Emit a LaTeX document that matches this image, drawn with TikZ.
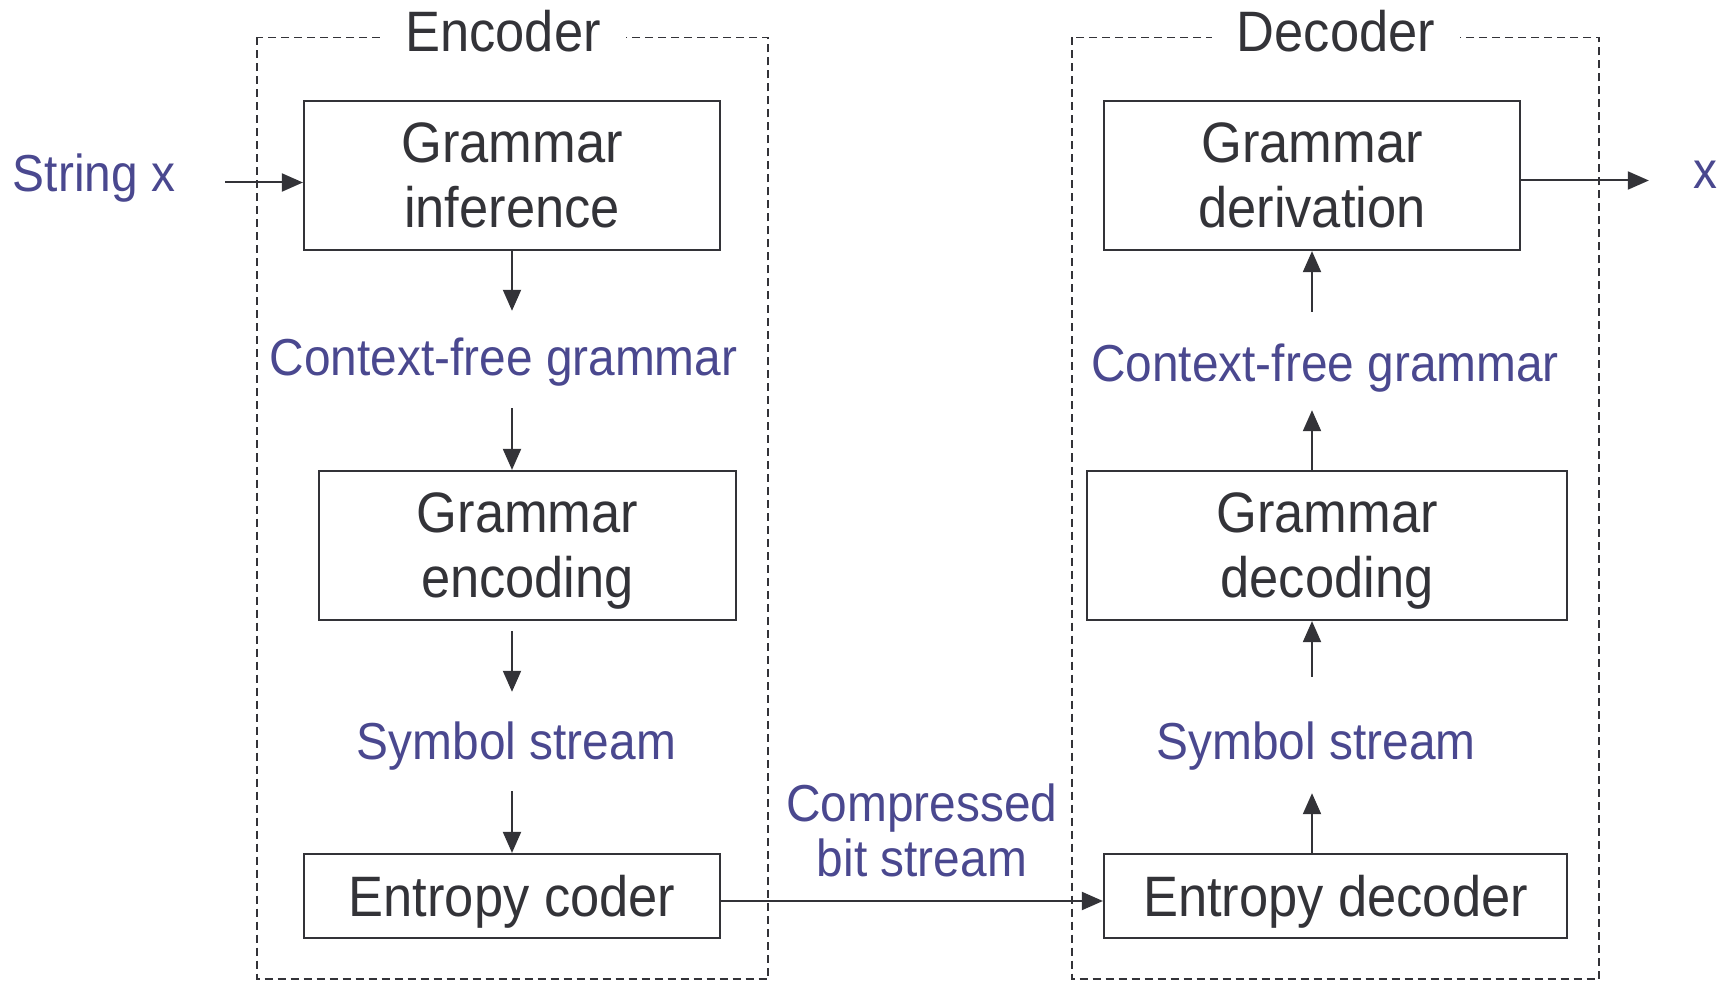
\documentclass[tikz,border=0pt]{standalone}
\usepackage{fontspec}
\setmainfont{Liberation Sans}[FakeStretch=0.92]
\usetikzlibrary{arrows.meta}
\definecolor{ink}{RGB}{51,51,56}
\definecolor{lblue}{RGB}{74,72,143}
\newcommand\nodp[1]{\raisebox{0pt}[\height][0pt]{#1}}
\newcommand\lastl[1]{\raisebox{0pt}[\height][-4pt]{#1}}
\begin{document}
\begin{tikzpicture}[x=1pt,y=-1pt,
  box/.style={draw=ink, line width=2.2pt, inner sep=0pt, text=ink, font=\fontsize{57}{65}\selectfont, align=center},
  lbl/.style={text=lblue, font=\fontsize{52}{55}\selectfont, inner sep=0pt, text height=40pt, text depth=11pt, anchor=base},
  lblml/.style={text=lblue, font=\fontsize{52}{55}\selectfont, inner sep=0pt, align=center},
  ttl/.style={text=ink, font=\fontsize{57}{63}\selectfont, fill=white, inner xsep=25pt, inner ysep=4pt, anchor=base},
  arr/.style={draw=ink, line width=2pt, -{Triangle[length=21pt,width=18pt]}},
  grp/.style={draw=ink, line width=1.6pt, dash pattern=on 8pt off 5pt}]
\useasboundingbox (0,0) rectangle (1727,981);
% group frames
\draw[grp] (257,37.5) rectangle (768,979);
\draw[grp] (1072,37.5) rectangle (1599,979);
\node[ttl] (encT) at (503,52) {Encoder};
\node[ttl] (decT) at (1336,52) {Decoder};
% boxes
\node[box, minimum width=416pt, minimum height=149pt] (inf) at (512,175.5) {Grammar\\\lastl{inference}};
\node[box, minimum width=417pt, minimum height=149pt] (enc) at (527.5,545.5) {Grammar\\\lastl{encoding}};
\node[box, minimum width=416pt, minimum height=84pt] (coder) at (512,896) {\nodp{Entropy coder}};
\node[box, minimum width=416pt, minimum height=149pt] (der) at (1312,175.5) {Grammar\\\lastl{derivation}};
\node[box, minimum width=480pt, minimum height=149pt] (dcd) at (1327,545.5) {Grammar\\\lastl{decoding}};
\node[box, minimum width=463pt, minimum height=84pt] (edec) at (1335.5,896) {\nodp{Entropy decoder}};
% labels
\node[lbl] (strx) at (94,192) {String x};
\node[lbl] (xout) at (1705,189) {x};
\node[lbl] (cfgE) at (503.5,376) {Context-free grammar};
\node[lbl] (cfgD) at (1325,382) {Context-free grammar};
\node[lbl] (symE) at (516.5,759) {Symbol stream};
\node[lbl] (symD) at (1316,759) {Symbol stream};
\node[lblml] (comp) at (922,830.5) {Compressed\\bit stream};
% horizontal connectors
\coordinate (inpt) at ([yshift=-7pt]inf.west);
\draw[arr, shorten <=50pt] (strx.east |- inpt) -- (inpt);
\coordinate (outp) at ([yshift=-5pt]der.east);
\draw[arr, shorten >=44pt] (outp) -- (outp -| xout.west);
\coordinate (cout) at ([yshift=-5pt]coder.east);
\draw[arr] (cout) -- (cout -| edec.west);
% encoder column
\draw[arr, shorten >=25pt] (inf.south) -- (inf.south |- cfgE.north);
\draw[arr, shorten <=21pt] (inf.south |- cfgE.south) -- (inf.south |- enc.north);
\draw[arr, shorten <=10pt, shorten >=27pt] (inf.south |- enc.south) -- (inf.south |- symE.north);
\draw[arr, shorten <=21pt] (inf.south |- symE.south) -- (coder.north);
% decoder column
\draw[arr, shorten >=23pt] (der.south |- edec.north) -- (der.south |- symD.south);
\draw[arr, shorten <=42pt] (der.south |- symD.north) -- (der.south |- dcd.south);
\draw[arr, shorten >=17pt] (der.south |- dcd.north) -- (der.south |- cfgD.south);
\draw[arr, shorten <=30pt] (der.south |- cfgD.north) -- (der.south);
\end{tikzpicture}
\end{document}
